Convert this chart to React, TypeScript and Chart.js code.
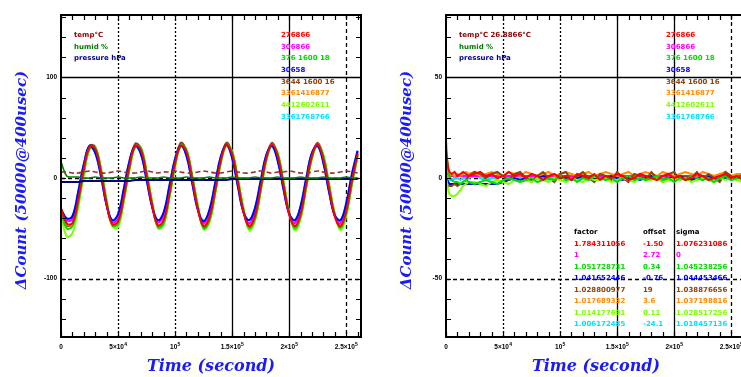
import React, { useEffect, useRef } from "react";
import { Chart, registerables } from "chart.js";
Chart.register(...registerables);

// ---------------- data ----------------
const TIME_L = [
  0, 5000, 10000, 15000, 20000, 25000, 30000, 35000, 40000, 45000,
  50000, 55000, 60000, 65000, 70000, 75000, 80000, 85000, 90000, 95000,
  100000, 105000, 110000, 115000, 120000, 125000, 130000, 135000, 140000, 145000,
  150000, 155000, 160000, 165000, 170000, 175000, 180000, 185000, 190000, 195000,
  200000, 205000, 210000, 215000, 220000, 225000, 230000, 235000, 240000, 245000,
  250000, 255000, 260000,
];

const RED_L = [
  -30, -45, -45, -22, 9, 31, 29, 6, -26, -46,
  -43, -19, 12, 32, 28, 3, -28, -47, -42, -16,
  15, 32, 26, -1, -31, -48, -40, -13, 17, 33,
  24, -4, -34, -48, -38, -10, 20, 33, 22, -7,
  -36, -48, -36, -6, 22, 33, 19, -10, -38, -48,
  -33, -3, 24,
];
const BLUE_L = [
  -31, -40, -38, -14, 14, 32, 25, 2, -27, -42,
  -36, -11, 17, 32, 24, -2, -29, -42, -34, -8,
  19, 32, 22, -5, -32, -43, -32, -6, 21, 33,
  20, -8, -34, -42, -30, -3, 23, 32, 17, -11,
  -35, -42, -28, 0, 25, 32, 15, -14, -37, -42,
  -25, 4, 27,
];
const MAGENTA_L = [
  -31, -42, -41, -18, 11, 31, 27, 4, -27, -44,
  -40, -15, 15, 32, 26, 1, -29, -44, -38, -12,
  17, 32, 24, -3, -31, -45, -36, -9, 19, 33,
  22, -6, -34, -45, -34, -6, 21, 33, 19, -9,
  -36, -45, -32, -3, 24, 33, 17, -12, -38, -45,
  -29, 0, 26,
];
const GREEN_L = [
  -33, -50, -48, -26, 5, 29, 30, 9, -23, -47,
  -46, -22, 9, 31, 30, 6, -25, -49, -45, -19,
  12, 32, 28, 2, -28, -50, -43, -16, 15, 33,
  26, -1, -31, -50, -41, -13, 18, 33, 24, -4,
  -34, -50, -39, -9, 20, 33, 22, -7, -36, -50,
  -36, -6, 22,
];
const LIME_L = [
  -36, -58, -55, -30, 3, 28, 30, 10, -22, -48,
  -49, -24, 8, 30, 30, 7, -24, -50, -47, -20,
  11, 31, 28, 3, -27, -51, -45, -17, 14, 32,
  27, 0, -30, -52, -43, -14, 17, 32, 25, -3,
  -33, -52, -41, -10, 19, 32, 23, -6, -35, -52,
  -38, -7, 21,
];
const ORANGE_L = [
  -31, -46, -46, -23, 8, 30, 29, 6, -25, -46,
  -44, -20, 11, 31, 28, 3, -27, -47, -43, -17,
  14, 32, 26, 0, -30, -47, -41, -14, 16, 32,
  24, -3, -33, -47, -39, -11, 19, 33, 22, -6,
  -35, -47, -37, -7, 21, 33, 20, -9, -37, -47,
  -34, -4, 23,
];
const BROWN_L = [
  -32, -47, -46, -23, 9, 32, 31, 7, -25, -47,
  -44, -20, 12, 34, 30, 4, -27, -48, -43, -17,
  15, 35, 27, 1, -30, -48, -41, -14, 17, 35,
  25, -2, -33, -48, -39, -11, 20, 35, 23, -5,
  -35, -48, -37, -7, 22, 35, 21, -8, -37, -48,
  -34, -4, 24,
];
const CYAN_L = [
  -31, -41, -38, -14, 14, 31, 25, 1, -27, -42,
  -36, -11, 17, 31, 24, -1, -29, -42, -35, -8,
  19, 32, 22, -5, -31, -42, -33, -6, 21, 32,
  20, -8, -34, -42, -30, -3, 23, 31, 17, -11,
  -35, -42, -28, 0, 25, 31, 15, -14, -37, -42,
  -26, 3, 27,
];
const TEMP_L = [
  6, 6, 5, 5, 6, 7, 6, 5, 5, 6,
  7, 6, 5, 5, 6, 7, 6, 5, 6, 6,
  7, 6, 5, 5, 6, 7, 6, 5, 5, 6,
  7, 6, 5, 5, 6, 7, 6, 5, 6, 6,
  7, 6, 5, 5, 6, 7, 6, 5, 5, 6,
  7, 6, 5,
];
const HUMID_L = [
  16, 2, 1, 1, 0, 0, 1, 0, 0, 0,
  1, 0, 0, 0, 1, 0, 0, 0, 1, 0,
  0, 0, 1, 0, 0, 0, 1, 0, 0, 0,
  1, 0, 0, 0, 1, 0, 0, 0, 1, 0,
  0, 0, 1, 0, 0, 0, 1, 0, 0, 0,
  1, 0, 0,
];
const PRESS_L = [
  -4, -4, -4, -4, -3, -3, -3, -3, -3, -3,
  -3, -3, -3, -2, -2, -2, -2, -2, -2, -2,
  -2, -2, -2, -2, -2, -2, -2, -2, -2, -2,
  -1, -1, -1, -1, -1, -1, -1, -1, -1, -1,
  -1, -1, -1, -1, -1, -1, -1, -1, -1, -1,
  -1, -1, -1,
];

const TIME_R = [
  0, 1000, 2000, 3000, 5000, 7500, 10000, 12500, 15000, 17500,
  20000, 25000, 30000, 35000, 40000, 45000, 50000, 55000, 60000, 65000,
  70000, 75000, 80000, 85000, 90000, 95000, 100000, 105000, 110000, 115000,
  120000, 125000, 130000, 135000, 140000, 145000, 150000, 155000, 160000, 165000,
  170000, 175000, 180000, 185000, 190000, 195000, 200000, 205000, 210000, 215000,
  220000, 225000, 230000, 235000, 240000, 245000, 250000, 255000, 260000,
];
const RED_R = [
  14, 9, 5, 3, 2, 3, 1, 2, 3, 2,
  1, 2, 3, 1, 2, 0, 1, 3, 1, 2,
  0, 2, 1, -1, 1, 2, 0, 1, -1, 2,
  1, 0, 2, -1, 1, 0, 2, 1, -1, 0,
  2, 1, 0, -1, 1, 2, 0, 1, -1, 0,
  2, 1, -1, 0, 1, 2, 0, 1, -1,
];
const GREEN_R = [
  19, 9, 3, 1, -1, -2, -2, -3, -2, -1,
  -2, -3, -2, -1, -2, -3, -1, 0, -1, -2,
  -1, 0, -2, -1, 0, -1, 1, -1, 0, -2,
  0, -1, 1, 0, -1, 0, -2, 0, 1, -1,
  0, -1, 0, 1, -1, 0, -2, 0, -1, 1,
  0, -1, 0, -2, 0, 1, -1, 0, 0,
];
const LIME_R = [
  0, -3, -6, -8, -9, -9, -8, -6, -4, -3,
  -2, -2, -3, -4, -2, -1, -2, -3, -1, -2,
  -1, -2, 0, -1, -2, 0, -1, -2, 0, -1,
  -2, 0, -1, -1, 0, -2, -1, 0, -1, -2,
  0, -1, -1, 0, -2, -1, 0, -1, 0, -2,
  -1, 0, -1, -2, 0, -1, 0, -1, -2,
];
const BROWN_R = [
  -1, -3, -4, -4, -4, -3, -4, -3, -2, -1,
  1, 3, 2, 0, 2, 3, 1, -1, 2, 3,
  0, -2, 1, 3, 0, -2, 2, 3, -1, 1,
  3, 0, -2, 2, 1, -1, 3, 0, -2, 2,
  1, -1, 3, 0, -2, 2, 3, -1, 1, 0,
  3, -1, 2, 0, -2, 3, 1, -1, 2,
];
const BLUE_R = [
  -1, -1, -2, -3, -3, -3, -3, -3, -3, -3,
  -3, -3, -3, -3, -3, -3, -2, -1, 0, -1,
  0, -1, 0, 1, 0, -1, 0, 0, -1, 0,
  1, 0, -1, 0, 0, 1, 0, -1, 0, 0,
  -1, 0, 1, 0, -1, 0, 0, 1, 0, -1,
  0, 0, 1, 0, -1, 0, 1, 0, 0,
];
const MAGENTA_R = [
  3, 2, 1, 1, 1, 1, 1, 1, 1, 1,
  1, 1, 1, 1, 1, 1, 1, 1, 1, 1,
  1, 1, 1, 1, 1, 1, 1, 1, 1, 1,
  1, 1, 1, 1, 1, 1, 1, 1, 1, 1,
  1, 1, 1, 1, 1, 1, 1, 1, 1, 1,
  1, 1, 1, 1, 1, 1, 1, 1, 1,
];
const ORANGE_R = [
  2, 1, 0, 1, 2, 1, 2, 1, 2, 3,
  2, 3, 1, 2, 3, 2, 1, 3, 2, 1,
  3, 2, 1, 2, 3, 1, 2, 3, 2, 1,
  2, 3, 1, 2, 3, 2, 1, 2, 3, 1,
  2, 3, 2, 1, 3, 2, 1, 2, 3, 2,
  1, 3, 2, 1, 2, 3, 1, 2, 2,
];
const CYAN_R = [
  0, 0, -1, -1, -1, 0, 0, -1, 0, 0,
  0, 1, 0, -1, 0, 0, 1, 0, -1, 0,
  0, 1, 0, 0, -1, 0, 1, 0, 0, -1,
  0, 0, 1, 0, -1, 0, 0, 1, 0, 0,
  -1, 0, 1, 0, 0, -1, 0, 0, 1, 0,
  0, -1, 0, 1, 0, 0, -1, 0, 0,
];

const X_TICKS = [0, 50000, 100000, 150000, 200000, 250000];
const X_TICK_LABELS = ["0", "5×10^4", "10^5", "1.5×10^5", "2×10^5", "2.5×10^5"];
const Y_TICKS_L = [100, 0, -100];
const Y_TICK_LABELS_L = ["100", "0", "-100"];
const Y_TICKS_R = [50, 0, -50];
const Y_TICK_LABELS_R = ["50", "0", "-50"];

const INFO_LEFT = ["temp°C", "humid %", "pressure hPa"];
const INFO_RIGHT = ["temp°C 26.8866°C", "humid %", "pressure hPa"];
const INFO_COLORS = ["#8b0000", "#007a00", "#00008b"];
const CHANNELS = ["276866", "306866", "376 1600 18", "30658", "3644 1600 16", "3361416877", "4412602611", "3361768766"];
const CH_COLORS = ["#ff0000", "#ff00ff", "#00dd00", "#0000ff", "#8b4513", "#ff8c00", "#7fff00", "#00e5ff"];

const TABLE_HEAD = ["factor", "offset", "sigma"];
const FACTORS = ["1.784311056", "1", "1.051728731", "1.041652446", "1.028800977", "1.017689332", "1.014177691", "1.006172485"];
const OFFSETS = ["-1.50", "2.72", "0.34", "-0.76", "19", "3.6", "0.11", "-24.1"];
const SIGMAS = ["1.076231086", "0", "1.045238256", "1.044453466", "1.038876656", "1.037198816", "1.028517256", "1.018457136"];

// ---------------- drawing helpers ----------------
const pts = (xs: number[], ys: number[]) => xs.map((x, i) => ({ x, y: ys[i] }));

function setStyle(ctx: CanvasRenderingContext2D, s: string) {
  if (s === "dot") { ctx.setLineDash([2, 2]); ctx.lineWidth = 1.3; }
  else if (s === "dash") { ctx.setLineDash([4, 3]); ctx.lineWidth = 1.3; }
  else { ctx.setLineDash([]); ctx.lineWidth = 1.3; }
}

function drawSci(ctx: CanvasRenderingContext2D, text: string, cx: number, cy: number, align: string) {
  const [base, sup] = text.split("^");
  const f1 = "bold 6.5px 'Liberation Sans'";
  const f2 = "bold 5px 'Liberation Sans'";
  ctx.font = f1;
  const wb = ctx.measureText(base).width;
  let ws = 0;
  if (sup) { ctx.font = f2; ws = ctx.measureText(sup).width; }
  const total = wb + ws;
  const x0 = align === "center" ? cx - total / 2 : cx - total;
  ctx.textAlign = "left";
  ctx.textBaseline = "middle";
  ctx.fillStyle = "#000";
  ctx.font = f1;
  ctx.fillText(base, x0, cy);
  if (sup) { ctx.font = f2; ctx.fillText(sup, x0 + wb + 0.3, cy - 2.5); }
}

type Spec = {
  yMin: number; yMax: number; yMinor: number;
  yTicks: number[]; yLabels: string[];
  info: string[]; table: boolean;
  padLeft: number; padRight: number; tension: number;
};

function makePlugin(p: Spec) {
  return {
    id: "decor",
    beforeDatasetsDraw(chart: any) {
      const { ctx, chartArea: a, scales } = chart;
      const xs = scales.x, ys = scales.y;
      ctx.save();
      ctx.strokeStyle = "#000";
      const vStyles = ["dot", "dot", "solid", "solid", "dash"];
      X_TICKS.slice(1).forEach((v, i) => {
        const px = Math.round(xs.getPixelForValue(v)) + 0.5;
        setStyle(ctx, vStyles[i]);
        ctx.beginPath(); ctx.moveTo(px, a.top); ctx.lineTo(px, a.bottom); ctx.stroke();
      });
      const hStyles = ["solid", "dash", "dash"];
      p.yTicks.forEach((v, i) => {
        const py = Math.round(ys.getPixelForValue(v)) + 0.5;
        setStyle(ctx, hStyles[i]);
        ctx.beginPath(); ctx.moveTo(a.left, py); ctx.lineTo(a.right, py); ctx.stroke();
      });
      ctx.restore();
    },
    afterDatasetsDraw(chart: any) {
      const { ctx, chartArea: a, scales } = chart;
      const xs = scales.x, ys = scales.y;
      ctx.save();
      ctx.setLineDash([]);
      ctx.strokeStyle = "#000";
      ctx.lineWidth = 1.2;
      for (let v = 0; v <= xs.max; v += 10000) {
        const px = Math.round(xs.getPixelForValue(v)) + 0.5;
        ctx.beginPath();
        ctx.moveTo(px, a.bottom); ctx.lineTo(px, a.bottom - 5);
        ctx.moveTo(px, a.top); ctx.lineTo(px, a.top + 5);
        ctx.stroke();
      }
      for (let v = Math.ceil(ys.min / p.yMinor) * p.yMinor; v <= ys.max; v += p.yMinor) {
        const py = Math.round(ys.getPixelForValue(v)) + 0.5;
        ctx.beginPath();
        ctx.moveTo(a.left, py); ctx.lineTo(a.left + 5, py);
        ctx.moveTo(a.right, py); ctx.lineTo(a.right - 5, py);
        ctx.stroke();
      }
      ctx.lineWidth = 2;
      ctx.strokeRect(a.left, a.top, a.right - a.left, a.bottom - a.top);

      X_TICKS.forEach((v, i) => drawSci(ctx, X_TICK_LABELS[i], xs.getPixelForValue(v), 347, "center"));
      p.yTicks.forEach((v, i) => drawSci(ctx, p.yLabels[i], a.left - 4, ys.getPixelForValue(v), "right"));

      ctx.font = "bold 7px 'DejaVu Sans'";
      ctx.textAlign = "left";
      ctx.textBaseline = "middle";
      const infoY = [35, 47, 58];
      p.info.forEach((t, i) => { ctx.fillStyle = INFO_COLORS[i]; ctx.fillText(t, a.left + 13, infoY[i]); });
      const chY = [35, 47, 58, 70, 82, 93, 105, 117];
      CHANNELS.forEach((t, i) => { ctx.fillStyle = CH_COLORS[i]; ctx.fillText(t, a.left + 220, chY[i]); });

      if (p.table) {
        const cols = [a.left + 128, a.left + 197, a.left + 230];
        ctx.fillStyle = "#000";
        TABLE_HEAD.forEach((t, i) => ctx.fillText(t, cols[i], 232));
        const rowY = [244, 255, 267, 278, 290, 301, 313, 324];
        rowY.forEach((y, i) => {
          ctx.fillStyle = CH_COLORS[i];
          ctx.fillText(FACTORS[i], cols[0], y);
          ctx.fillText(OFFSETS[i], cols[1], y);
          ctx.fillText(SIGMAS[i], cols[2], y);
        });
      }

      ctx.font = "italic bold 16px 'DejaVu Serif'";
      ctx.textAlign = "center";
      ctx.textBaseline = "middle";
      const xt = "Time (second)";
      const cx = (a.left + a.right) / 2;
      const wx = ctx.measureText(xt).width;
      ctx.fillStyle = "#fefef3";
      ctx.fillRect(cx - wx / 2 - 4, 357, wx + 8, 20);
      ctx.fillStyle = "#1a1aff";
      ctx.fillText(xt, cx, 367);

      ctx.save();
      ctx.font = "italic bold 15px 'DejaVu Serif'";
      const yt = "ΔCount (50000@400usec)";
      const wy = ctx.measureText(yt).width;
      ctx.translate(a.left - 39, 180);
      ctx.rotate(-Math.PI / 2);
      ctx.fillStyle = "#fefef3";
      ctx.fillRect(-wy / 2 - 4, -10, wy + 8, 20);
      ctx.fillStyle = "#1a1aff";
      ctx.fillText(yt, 0, 0);
      ctx.restore();

      ctx.restore();
    },
  };
}

function makeConfig(p: Spec, datasets: any[]): any {
  return {
    type: "line",
    data: { datasets },
    options: {
      responsive: false,
      animation: false,
      devicePixelRatio: 1,
      events: [],
      layout: { padding: { left: p.padLeft, top: 15, right: p.padRight, bottom: 40 } },
      scales: {
        x: { type: "linear", display: false, min: 0, max: 263000 },
        y: { type: "linear", display: false, min: p.yMin, max: p.yMax },
      },
      plugins: { legend: { display: false }, tooltip: { enabled: false } },
      elements: { point: { radius: 0 }, line: { tension: p.tension, borderWidth: 2 } },
    },
    plugins: [makePlugin(p)],
  };
}

const ds = (data: any[], color: string, extra: any = {}) => ({ data, borderColor: color, backgroundColor: color, fill: false, ...extra });

export default function App() {
  const leftRef = useRef<HTMLCanvasElement>(null);
  const rightRef = useRef<HTMLCanvasElement>(null);

  useEffect(() => {
    const leftSpec: Spec = {
      yMin: -158, yMax: 162, yMinor: 20, yTicks: Y_TICKS_L, yLabels: Y_TICK_LABELS_L,
      info: INFO_LEFT, table: false, padLeft: 61, padRight: 9, tension: 0.4,
    };
    const rightSpec: Spec = {
      yMin: -79, yMax: 81, yMinor: 10, yTicks: Y_TICKS_R, yLabels: Y_TICK_LABELS_R,
      info: INFO_RIGHT, table: true, padLeft: 76, padRight: 10, tension: 0,
    };
    const leftSets = [
      ds(pts(TIME_L, TEMP_L), "#993030", { borderDash: [5, 3], borderWidth: 1.6 }),
      ds(pts(TIME_L, HUMID_L), "#008000", { borderWidth: 1.6 }),
      ds(pts(TIME_L, PRESS_L), "#000080", { borderWidth: 2 }),
      ds(pts(TIME_L, RED_L), "#ff0000"),
      ds(pts(TIME_L, BLUE_L), "#0000ff"),
      ds(pts(TIME_L, MAGENTA_L), "#ff00ff"),
      ds(pts(TIME_L, GREEN_L), "#00dd00"),
      ds(pts(TIME_L, LIME_L), "#7fff00"),
      ds(pts(TIME_L, ORANGE_L), "#ff8c00"),
      ds(pts(TIME_L, BROWN_L), "#8b4513"),
      ds(pts(TIME_L, CYAN_L), "#00e5ff"),
    ];
    const rightSets = [
      ds(pts(TIME_R, RED_R), "#ff0000"),
      ds(pts(TIME_R, GREEN_R), "#00dd00"),
      ds(pts(TIME_R, LIME_R), "#7fff00"),
      ds(pts(TIME_R, BROWN_R), "#8b4513"),
      ds(pts(TIME_R, ORANGE_R), "#ff8c00"),
      ds(pts(TIME_R, BLUE_R), "#0000ff"),
      ds(pts(TIME_R, MAGENTA_R), "#ff00ff"),
      ds(pts(TIME_R, CYAN_R), "#00e5ff"),
    ];
    const c1 = new Chart(leftRef.current as HTMLCanvasElement, makeConfig(leftSpec, leftSets));
    const c2 = new Chart(rightRef.current as HTMLCanvasElement, makeConfig(rightSpec, rightSets));
    return () => { c1.destroy(); c2.destroy(); };
  }, []);

  return (
    <div style={{ position: "fixed", left: 0, top: 0, width: 741, height: 377, overflow: "hidden", background: "#fff" }}>
      <canvas ref={leftRef} width={370} height={377} style={{ position: "absolute", left: 0, top: 0 }} />
      <canvas ref={rightRef} width={386} height={377} style={{ position: "absolute", left: 370, top: 0 }} />
    </div>
  );
}
